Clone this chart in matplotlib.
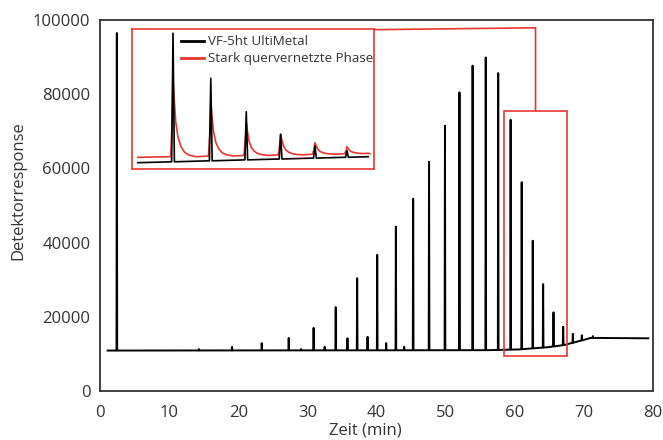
import numpy as np
import matplotlib
matplotlib.use("Agg")
import matplotlib.pyplot as plt
from matplotlib.patches import Rectangle

plt.rcParams['font.family'] = ['Open Sans', 'DejaVu Sans']

BLACK = 'k'
RED = '#e8362f'
TEXT = '#333333'

# main chromatogram: baseline knots (min, response)
base_t = [1.1, 56.0, 60.6, 64.8, 67.2, 69.6, 71.0, 72.0, 79.3]
base_v = [10900, 11000, 11200, 11800, 12400, 13600, 14300, 14300, 14200]

# peak retention times (min) and apex heights
peak_t = [2.44, 14.3, 19.1, 23.4, 27.3, 29.1, 30.9, 32.5, 34.1, 35.8,
          37.2, 38.7, 40.1, 41.4, 42.8, 44.0, 45.3, 47.6, 49.9, 52.0,
          53.9, 55.8, 57.6, 59.4, 61.0, 62.6, 64.1, 65.6, 67.0, 68.4,
          69.7, 71.3]
peak_v = [96500, 11300, 11900, 12900, 14300, 11300, 17000, 11900, 22600, 14200,
          30400, 14600, 36700, 12900, 44300, 11900, 51800, 61800, 71500, 80500,
          87700, 89900, 85700, 73100, 56300, 40500, 28800, 21200, 17300, 15400,
          15000, 14800]

# inset (zoom of 58.5-67.6 min), response in arbitrary units
ins_base_t = [57.86, 67.93]
ins_black_base = [6.3, 12.3]
ins_red_base = [11.7, 15.7]
ins_peak_t = [59.4, 61.05, 62.6, 64.1, 65.6, 67.0]
ins_black_v = [135.7, 90.7, 57.3, 34.7, 23.3, 18.3]
ins_red_v = [89.0, 67.3, 45.7, 34.7, 26.3, 22.3]

# tailing profile of the red peaks (offset in min, fraction of apex)
tail_dt = [-0.1, -0.04, 0.0, 0.05, 0.12, 0.22, 0.35, 0.5, 0.7, 1.0]
tail_f = [0.0, 0.45, 1.0, 0.75, 0.45, 0.25, 0.13, 0.06, 0.02, 0.0]

# narrow black peaks
spike_in_dt = [-0.06, 0.0, 0.06]
spike_in_f = [0.0, 1.0, 0.0]

# zoom marker and connector
zoom_box = (58.5, 9500, 67.6, 75600)
conn_t = [39.7, 63.0, 63.0]
conn_v = [97400, 97900, 75600]

legend_labels = ['VF-5ht UltiMetal', 'Stark quervernetzte Phase']


def build_trace(bt, bv, pt, pv, dt, frac):
    """Merge baseline knots with peak outlines into one sorted polyline."""
    t = list(bt)
    v = list(bv)
    for p, h in zip(pt, pv):
        b = np.interp(p, bt, bv)
        for d, f in zip(dt, frac):
            t.append(p + d)
            v.append(b + f * (h - b))
    order = np.argsort(t, kind='stable')
    return np.array(t)[order], np.array(v)[order]


fig = plt.figure(figsize=(6.63, 4.40), dpi=100)
ax = fig.add_axes([0.1508, 0.1114, 0.8342, 0.8431])

spike_dt = [-0.05, 0.0, 0.05]
spike_f = [0.0, 1.0, 0.0]
t, v = build_trace(base_t, base_v, peak_t, peak_v, spike_dt, spike_f)
ax.plot(t, v, color=BLACK, linewidth=1.4)

ax.set_xlim(0, 80)
ax.set_ylim(0, 100000)
ax.set_xticks(range(0, 81, 10))
ax.set_yticks(range(0, 100001, 20000))
ax.tick_params(length=0, labelsize=12, colors=TEXT)
ax.tick_params(axis='x', pad=10)
ax.tick_params(axis='y', pad=7)
for s in ax.spines.values():
    s.set_color(TEXT)
    s.set_linewidth(1.3)
ax.set_xlabel('Zeit (min)', fontsize=12, color=TEXT)
ax.set_ylabel('Detektorresponse', fontsize=12, color=TEXT)
ax.xaxis.set_label_coords(0.479, -0.084)
ax.yaxis.set_label_coords(-0.133, 0.54)

x0, y0, x1, y1 = zoom_box
ax.add_patch(Rectangle((x0, y0), x1 - x0, y1 - y0, fill=False,
                       edgecolor=RED, linewidth=1.2, zorder=3))
ax.plot(conn_t, conn_v, color=RED, linewidth=1.2, clip_on=False, zorder=3)

# inset
ax_in = fig.add_axes([0.1995, 0.6159, 0.3646, 0.3175])
ax_in.set_xlim(57.62, 68.18)
ax_in.set_ylim(0, 139.7)
ax_in.set_xticks([])
ax_in.set_yticks([])
for s in ax_in.spines.values():
    s.set_color(RED)
    s.set_linewidth(1.2)

rt, rv = build_trace(ins_base_t, ins_red_base, ins_peak_t, ins_red_v,
                     tail_dt, tail_f)
bt, bv = build_trace(ins_base_t, ins_black_base, ins_peak_t, ins_black_v,
                     spike_in_dt, spike_in_f)
ax_in.plot(rt, rv, color=RED, linewidth=1.2)
ax_in.plot(bt, bv, color=BLACK, linewidth=1.2)

h1, = ax_in.plot([], [], color=BLACK, linewidth=2)
h2, = ax_in.plot([], [], color=RED, linewidth=2)
leg = ax_in.legend([h1, h2], legend_labels, loc='upper left',
                   bbox_to_anchor=(0.17, 1.015), frameon=False, fontsize=9.6,
                   handlelength=1.7, handletextpad=0.3, labelspacing=0.3,
                   borderaxespad=0.2)
for txt in leg.get_texts():
    txt.set_color(TEXT)

fig.savefig('out.png', dpi=100)
